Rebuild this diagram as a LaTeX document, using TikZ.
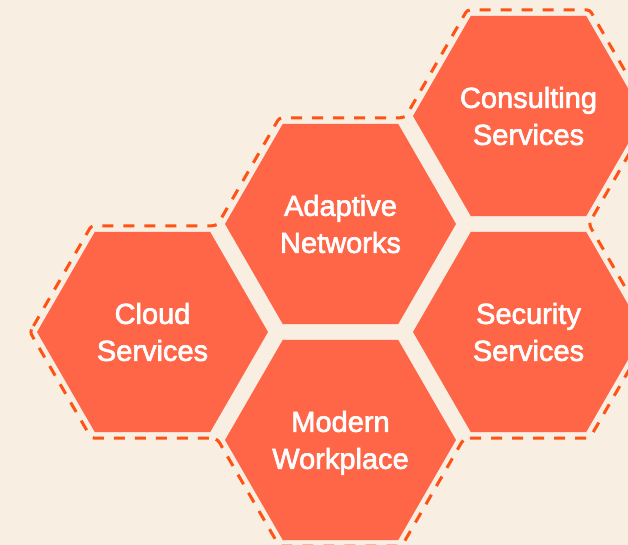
\documentclass[tikz,border=0pt]{standalone}
\usepackage{fontspec}
\newfontfamily\labfont[FakeBold=2.2]{Liberation Sans}
\usetikzlibrary{shapes.geometric,calc}
\definecolor{bg}{RGB}{248,238,226}
\definecolor{hexfill}{RGB}{255,102,72}
\definecolor{dashc}{RGB}{255,82,20}
\begin{document}
\begin{tikzpicture}[x=1pt,y=-1pt,
  hexbox/.style={regular polygon, regular polygon sides=6, minimum size=231pt,
    inner sep=0pt, outer sep=0pt, fill=hexfill, text=white,
    font=\labfont\fontsize{29}{37}\selectfont, align=center},
  outline/.style={draw=dashc, line width=3pt, dash pattern=on 11pt off 10pt,
    dash phase=-4pt, rounded corners=3pt}]
\fill[bg] (0,0) rectangle (628,545);
\useasboundingbox (0,0) rectangle (628,545);
\node[hexbox] (cloud) at (152.5,332) {Cloud\\Services};
\node[hexbox] (adapt) at (340.5,224) {Adaptive\\Networks};
\node[hexbox] (modern) at (340.5,440) {Modern\\Work\smash{p}lace};
\node[hexbox] (consult) at (528.5,116) {Consulting\\Services};
\node[hexbox] (secur) at (528.5,332) {Security\\Services};
\draw[outline]
  ($(cloud.center)+(-122.5,0)$) --
  ($(cloud.center)+(-61.25,-106.1)$) --
  ($(cloud.center)+(61.25,-106.1)$) --
  ($(adapt.center)+(-122.5,0)$) --
  ($(adapt.center)+(-61.25,-106.1)$) --
  ($(adapt.center)+(61.25,-106.1)$) --
  ($(consult.center)+(-122.5,0)$) --
  ($(consult.center)+(-61.25,-106.1)$) --
  ($(consult.center)+(61.25,-106.1)$) --
  ($(consult.center)+(122.5,0)$) --
  ($(consult.center)+(61.25,106.1)$) --
  ($(secur.center)+(61.25,-106.1)$) --
  ($(secur.center)+(122.5,0)$) --
  ($(secur.center)+(61.25,106.1)$) --
  ($(secur.center)+(-61.25,106.1)$) --
  ($(modern.center)+(122.5,0)$) --
  ($(modern.center)+(61.25,106.1)$) --
  ($(modern.center)+(-61.25,106.1)$) --
  ($(modern.center)+(-122.5,0)$) --
  ($(cloud.center)+(61.25,106.1)$) --
  ($(cloud.center)+(-61.25,106.1)$) -- cycle;
\end{tikzpicture}
\end{document}
